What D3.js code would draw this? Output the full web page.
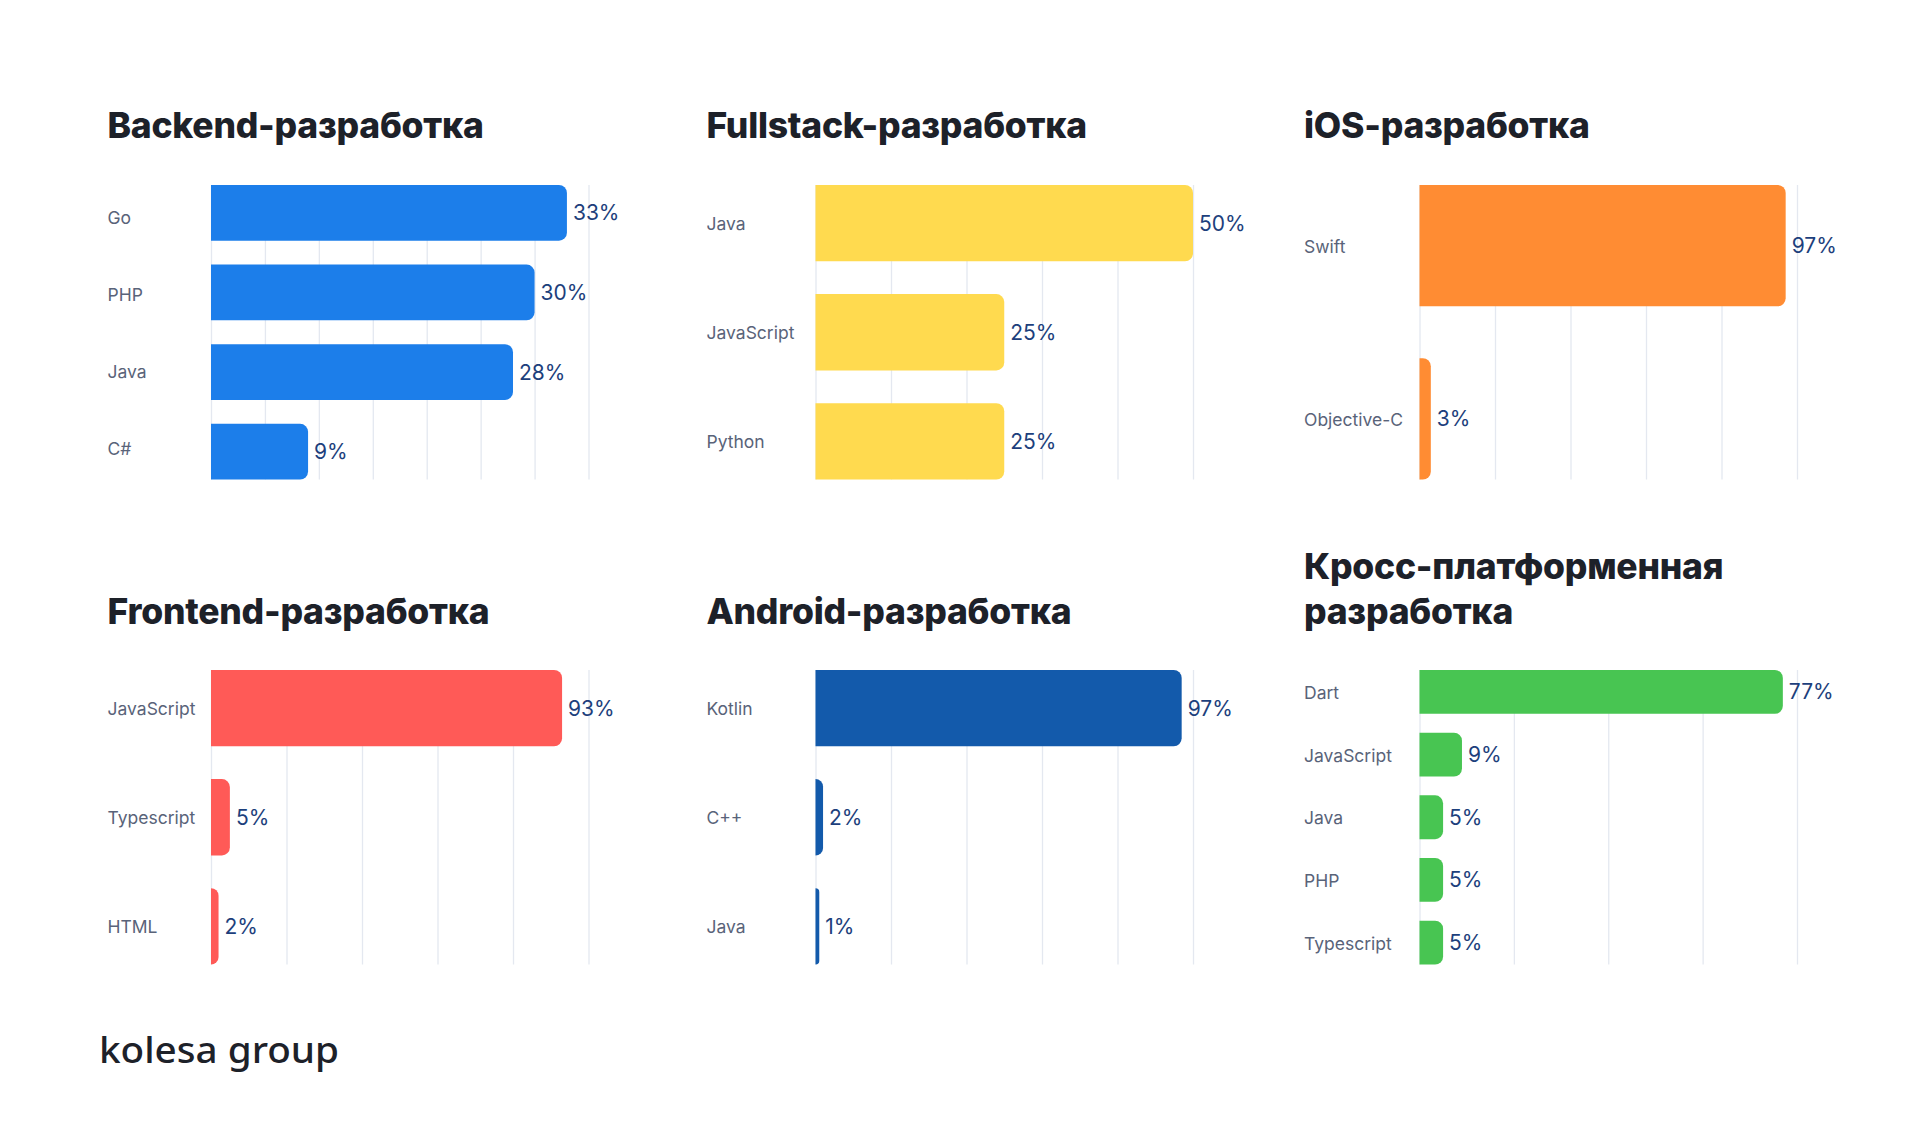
<!DOCTYPE html>
<html>
<head>
<meta charset="utf-8">
<script src="https://cdn.jsdelivr.net/npm/d3@7"></script>
<style>
  html, body { margin: 0; padding: 0; background: #ffffff; }
  svg { display: block; }
</style>
</head>
<body>
<svg id="chart" width="1920" height="1136"></svg>
<script>
// ---- Data ----
const titles = [
  ["Backend-разработка"],
  ["Fullstack-разработка"],
  ["iOS-разработка"],
  ["Frontend-разработка"],
  ["Android-разработка"],
  ["Кросс-платформенная", "разработка"]
];

const backendLangs = ["Go", "PHP", "Java", "C#"];
const backendValues = [33, 30, 28, 9];

const fullstackLangs = ["Java", "JavaScript", "Python"];
const fullstackValues = [50, 25, 25];

const iosLangs = ["Swift", "Objective-C"];
const iosValues = [97, 3];

const frontendLangs = ["JavaScript", "Typescript", "HTML"];
const frontendValues = [93, 5, 2];

const androidLangs = ["Kotlin", "C++", "Java"];
const androidValues = [97, 2, 1];

const crossLangs = ["Dart", "JavaScript", "Java", "PHP", "Typescript"];
const crossValues = [77, 9, 5, 5, 5];

// grid tick values (percent) for each panel
const backendTicks = [0, 5, 10, 15, 20, 25, 30, 35];
const fullstackTicks = [0, 10, 20, 30, 40, 50];
const iosTicks = [0, 20, 40, 60, 80, 100];
const frontendTicks = [0, 20, 40, 60, 80, 100];
const androidTicks = [0, 20, 40, 60, 80, 100];
const crossTicks = [0, 20, 40, 60, 80];

const colors = ["#1c7eea", "#ffda4f", "#ff8c33", "#ff5a57", "#135aab", "#48c552"];

const logoText = "kolesa group";

// ---- Layout ----
const panels = [
  { langs: backendLangs, values: backendValues, ticks: backendTicks },
  { langs: fullstackLangs, values: fullstackValues, ticks: fullstackTicks },
  { langs: iosLangs, values: iosValues, ticks: iosTicks },
  { langs: frontendLangs, values: frontendValues, ticks: frontendTicks },
  { langs: androidLangs, values: androidValues, ticks: androidTicks },
  { langs: crossLangs, values: crossValues, ticks: crossTicks }
];

const colX = [107.5, 706.5, 1304];
const plotLeft = [211, 815.5, 1419.5];
const plotW = 377.5;
const rowPlotTop = [185, 670];
const rowTitleBase = [138, 624];
const plotH = 294.5;
// vertical inset of the category-label column (only the first panel's labels sit tighter)
const labelInset = [4, 0, 0, 0, 0, 0];

const svg = d3.select("#chart");

function barPath(x0, y0, w, h, r) {
  r = Math.max(0, Math.min(r, w, h / 2));
  return `M${x0},${y0}H${x0 + w - r}` +
    `A${r},${r} 0 0 1 ${x0 + w},${y0 + r}` +
    `V${y0 + h - r}` +
    `A${r},${r} 0 0 1 ${x0 + w - r},${y0 + h}` +
    `H${x0}Z`;
}

panels.forEach((p, i) => {
  const col = i % 3, row = Math.floor(i / 3);
  const px = colX[col];
  const left = plotLeft[col];
  const top = rowPlotTop[row];

  const g = svg.append("g");

  // Title
  const tl = titles[i];
  const title = g.append("text")
    .attr("x", px)
    .attr("y", rowTitleBase[row] - (tl.length - 1) * 45)
    .attr("font-family", "Inter, 'Noto Sans', sans-serif")
    .attr("font-weight", 800)
    .attr("font-size", 35.5)
    .attr("letter-spacing", -0.25)
    .attr("fill", "#1d2129");
  tl.forEach((line, k) => {
    title.append("tspan").attr("x", px).attr("dy", k === 0 ? 0 : 45).text(line);
  });

  const x = d3.scaleLinear()
    .domain([0, d3.max(p.ticks)])
    .range([left, left + plotW]);
  const y = d3.scaleBand()
    .domain(p.langs)
    .range([top, top + plotH])
    .paddingInner(0.3)
    .paddingOuter(0);
  const yLab = d3.scalePoint()
    .domain(p.langs)
    .range([top + y.bandwidth() / 2 + labelInset[i], top + plotH - y.bandwidth() / 2 - labelInset[i]]);

  // Grid
  const grid = g.append("g")
    .attr("transform", `translate(0,${top + plotH})`)
    .call(d3.axisBottom(x).tickValues(p.ticks).tickSize(-plotH).tickFormat(""));
  grid.select(".domain").remove();
  grid.selectAll(".tick line").attr("stroke", "#e4e8f0").attr("stroke-width", 1.3);

  // Bars
  g.selectAll("path.bar")
    .data(p.langs.map((l, k) => ({ l, v: p.values[k] })))
    .join("path")
    .attr("class", "bar")
    .attr("fill", colors[i])
    .attr("d", d => barPath(x(0), y(d.l), x(d.v) - x(0), y.bandwidth(), 8));

  // Category labels
  g.selectAll("text.cat")
    .data(p.langs)
    .join("text")
    .attr("class", "cat")
    .attr("x", px)
    .attr("y", d => yLab(d))
    .attr("dy", "0.4em")
    .attr("font-family", "Inter, 'Noto Sans', sans-serif")
    .attr("font-size", 17.5)
    .attr("fill", "#596379")
    .text(d => d);

  // Value labels
  g.selectAll("text.val")
    .data(p.langs.map((l, k) => ({ l, v: p.values[k] })))
    .join("text")
    .attr("class", "val")
    .attr("x", d => x(d.v) + 6)
    .attr("y", d => y(d.l) + y.bandwidth() / 2)
    .attr("dy", "0.36em")
    .attr("font-family", "Inter, 'Noto Sans', sans-serif")
    .attr("font-size", 21)
    .attr("fill", "#1d3f7c")
    .text(d => d.v + "%");
});

// Logo
svg.append("text")
  .attr("x", 99)
  .attr("y", 1063)
  .attr("font-family", "'Noto Sans', Lato, sans-serif")
  .attr("font-weight", 500)
  .attr("font-size", 37)
  .attr("textLength", 240)
  .attr("lengthAdjust", "spacingAndGlyphs")
  .attr("fill", "#1d2129")
  .text(logoText);
</script>
</body>
</html>
